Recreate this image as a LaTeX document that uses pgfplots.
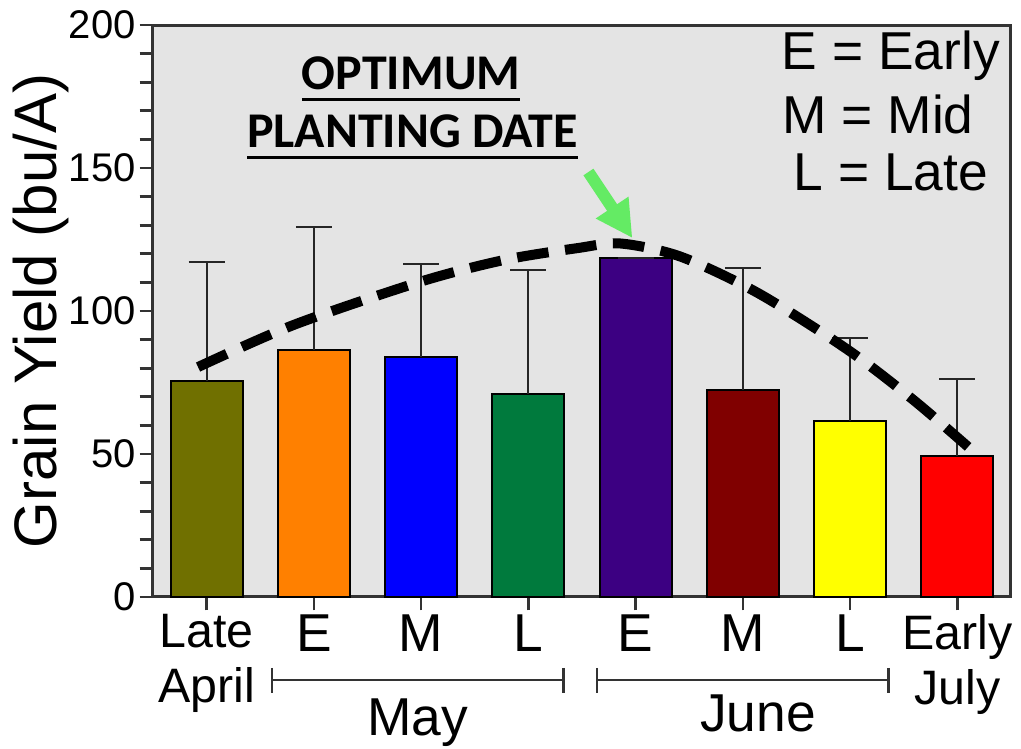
\documentclass[border=0pt]{standalone}
\usepackage{pgfplots}
\pgfplotsset{compat=1.18}
\usepackage{fontspec}
\setmainfont{Liberation Sans}
\newfontfamily\carlito{Carlito}
\usetikzlibrary{arrows.meta}

\definecolor{bg}{RGB}{228,228,228}
\definecolor{cA}{RGB}{112,112,0}
\definecolor{cB}{RGB}{255,128,0}
\definecolor{cC}{RGB}{0,0,255}
\definecolor{cD}{RGB}{0,122,61}
\definecolor{cE}{RGB}{60,0,130}
\definecolor{cF}{RGB}{128,0,0}
\definecolor{cG}{RGB}{255,255,0}
\definecolor{cH}{RGB}{255,0,0}
\definecolor{arrowgreen}{RGB}{100,235,100}

\pgfplotsset{
  yieldbar/.style={
    fill=#1, draw=black, line width=0.6pt,
    error bars/.cd, y dir=plus, y explicit,
    error bar style={line width=0.6pt, black!85},
    error mark options={rotate=90, mark size=5.4pt, line width=0.6pt, black!85},
  },
}

\begin{document}
\begin{tikzpicture}
\useasboundingbox (-45.9pt,-45.6pt) rectangle (260.4pt,179.1pt);
\begin{axis}[
    at={(0,0)}, anchor=south west,
    width=257.4pt, height=171.6pt, scale only axis,
    ybar, bar width=0.67, /pgfplots/bar shift=0pt,
    xmin=-0.5, xmax=7.5,
    ymin=0, ymax=200,
    ytick={0,50,100,150,200},
    minor y tick num=4,
    xtick={0,...,7},
    xticklabels={
      {\fontsize{14.5}{16.5}\selectfont Late\\\fontsize{14.5}{16.5}\selectfont April},
      E, M, L, E, M, L,
      {\fontsize{14.5}{16.5}\selectfont Early\\\fontsize{14.5}{16.5}\selectfont July}},
    xtick pos=bottom, ytick pos=left,
    tick align=outside,
    major tick length=4pt, minor tick length=4pt,
    tick style={line width=0.8pt, black!80},
    axis line style={line width=0.9pt, black!80},
    axis background/.style={fill=bg},
    yticklabel style={font=\fontsize{12}{14}\selectfont, inner sep=1pt},
    xticklabel style={align=center, font=\fontsize{16}{16.5}\selectfont, inner sep=1pt},
    /pgf/number format/assume math mode=true,
    clip=false,
]
\addplot[yieldbar=cA] coordinates {(0,75.6) +- (0,41.4)};
\addplot[yieldbar=cB] coordinates {(1,86.4) +- (0,42.9)};
\addplot[yieldbar=cC] coordinates {(2,83.8) +- (0,32.5)};
\addplot[yieldbar=cD] coordinates {(3,71.0) +- (0,43.3)};
\addplot[yieldbar=cE] coordinates {(4,118.6) +- (0,0)};
\addplot[yieldbar=cF] coordinates {(5,72.4) +- (0,42.5)};
\addplot[yieldbar=cG] coordinates {(6,61.5) +- (0,29.2)};
\addplot[yieldbar=cH] coordinates {(7,49.4) +- (0,26.7)};

% trend curve
\addplot[sharp plot, smooth, black, line width=3pt, dash pattern=on 9.5pt off 5pt]
  coordinates {
    (-0.08, 80.4)
    (0.81, 95.1)
    (1.99, 110.2)
    (2.77, 117.8)
    (3.46, 122.0)
    (3.86, 123.6)
    (4.42, 119.0)
    (5.14, 106.3)
    (5.98, 86.4)
    (6.59, 68.9)
    (7.10, 52.5)
  };

% arrow and notes
\draw[arrowgreen, line width=3.6pt, -{Triangle[length=11pt, width=11pt]}]
  (axis cs:3.56,148.6) -- (axis cs:3.97,125.5);
\node[font=\carlito\bfseries\fontsize{15}{15}\selectfont, anchor=base, inner sep=0pt, outer sep=0pt]
  (o1) at (axis cs:1.907,177.3) {OPTIMUM};
\node[font=\carlito\bfseries\fontsize{15}{15}\selectfont, anchor=base, inner sep=0pt, outer sep=0pt]
  (o2) at (axis cs:1.92,157) {PLANTING DATE};
\draw[line width=0.9pt] ([yshift=-3pt]o1.base west) -- ([yshift=-3pt]o1.base east);
\draw[line width=0.9pt] ([yshift=-3pt]o2.base west) -- ([yshift=-3pt]o2.base east);

\node[font=\fontsize{16}{16}\selectfont, anchor=base] at (axis cs:6.38,184.3) {E = Early};
\node[font=\fontsize{16}{16}\selectfont, anchor=base] at (axis cs:6.26,162.2) {M = Mid};
\node[font=\fontsize{16}{16}\selectfont, anchor=base] at (axis cs:6.38,142.3) {L = Late};

% month brackets
\draw[line width=0.8pt, black!80] (axis cs:0.61,-29) -- (axis cs:3.33,-29);
\draw[line width=0.8pt, black!80] (axis cs:0.61,-24.8) -- (axis cs:0.61,-33.6);
\draw[line width=0.8pt, black!80] (axis cs:3.33,-24.8) -- (axis cs:3.33,-33.6);
\draw[line width=0.8pt, black!80] (axis cs:3.64,-29) -- (axis cs:6.36,-29);
\draw[line width=0.8pt, black!80] (axis cs:3.64,-24.8) -- (axis cs:3.64,-33.6);
\draw[line width=0.8pt, black!80] (axis cs:6.36,-24.8) -- (axis cs:6.36,-33.6);
\node[font=\fontsize{16}{16}\selectfont, anchor=base] at (axis cs:1.97,-48.3) {May};
\node[font=\fontsize{16}{16}\selectfont, anchor=base] at (axis cs:5.14,-47.2) {June};

\node[font=\fontsize{18}{18}\selectfont, rotate=90, anchor=base]
  at ([xshift=-28.8pt]rel axis cs:0,0.5) {Grain Yield (bu/A)};
\end{axis}
\end{tikzpicture}
\end{document}
